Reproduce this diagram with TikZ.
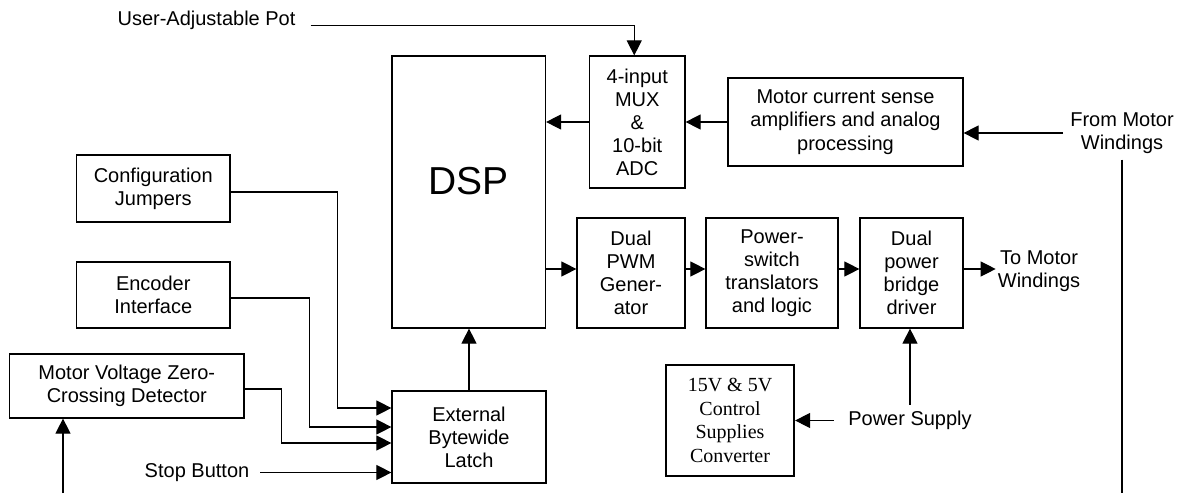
\documentclass[tikz,border=0pt]{standalone}
\usepackage{fontspec}
\setmainfont{Liberation Sans}
\newfontfamily\boxserif{Liberation Serif}
\usetikzlibrary{arrows.meta}

\begin{document}
\begin{tikzpicture}[x=1pt,y=-1pt,
  blk/.style={draw,line width=1.2pt,align=center,inner sep=0pt,font=\fontsize{20}{23}\selectfont},
  lbl/.style={align=center,inner sep=0pt,font=\fontsize{20}{23}\selectfont},
  arr/.style={line width=1.1pt,-{Triangle[length=15pt,width=15pt]}},
  wire/.style={line width=1.1pt}]
\useasboundingbox (0,0) rectangle (1183,500);

% Processor and analog input side
\node[blk,minimum width=153.5pt,minimum height=272pt,
  label={[font=\fontsize{39}{41}\selectfont,yshift=11pt]center:DSP}] (dsp) at (468.75,192) {};
\node[blk,minimum width=95.5pt,minimum height=132pt] (mux) at (637.25,122) {4-input\\MUX\\\&\\10-bit\\ADC};
\node[blk,minimum width=235pt,minimum height=88pt,font=\fontsize{20}{23.5}\selectfont] (cur) at (845.5,122)
  {Motor current sense\\amplifiers and analog\\processing};

% Digital inputs
\node[blk,minimum width=153.5pt,minimum height=67pt] (cfg) at (153.25,188.5) {Configuration\\Jumpers};
\node[blk,minimum width=153.5pt,minimum height=66pt] (enc) at (153.25,295) {Encoder\\Interface};
\node[blk,minimum width=234.4pt,minimum height=64pt] (zero) at (126.8,386) {Motor Voltage Zero-\\Crossing Detector};
\node[blk,minimum width=154pt,minimum height=92pt] (latch) at (469,437) {External\\Bytewide\\Latch};

% Power stage
\node[blk,minimum width=108pt,minimum height=110pt] (pwm) at (631,273) {Dual\\PWM\\Gener-\\ator};
\node[blk,minimum width=132pt,minimum height=110pt] (sw) at (772,273) {Power-\\switch\\translators\\and logic};
\node[blk,minimum width=103pt,minimum height=110pt] (bridge) at (911.5,273) {Dual\\power\\bridge\\driver};
\node[blk,line width=2.2pt,minimum width=128pt,minimum height=111pt,font=\boxserif\fontsize{20}{23.5}\selectfont] (conv) at (730,420.5)
  {15V \& 5V\\Control\\Supplies\\Converter};

% Free labels
\node[lbl,inner xsep=15pt] (pot) at (206.5,20) {User-Adjustable Pot};
\node[lbl,inner xsep=11pt] (stop) at (197,472.5) {Stop Button};
\node[lbl,inner xsep=14.5pt,inner ysep=6pt] (ps) at (910,420.5) {Power Supply};
\node[lbl,inner sep=2pt] (tomw) at (1039,271) {To Motor\\Windings};
\node[lbl,inner xsep=7pt,inner ysep=6pt] (fmw) at (1122,133) {From Motor\\Windings};

\coordinate (row) at (0,269);
\coordinate (wbot) at (1120,493);
\coordinate (zbot) at (63,493);

% Connections
\draw[arr] (pot.base east) -| ([xshift=-3pt]mux.north);
\draw[arr] (mux.west) -- (mux.west -| dsp.east);
\draw[arr] (cur.west) -- (mux.east);
\draw[arr] (fmw.west) -- (fmw.west -| cur.east);
\draw[wire] (fmw.south) -- (fmw.south |- wbot);

\draw[arr] ([yshift=-3.5pt]cfg.east) -- ++(107,0) |- ([yshift=29pt]latch.west);
\draw[arr] ([yshift=-3pt]enc.east) -- ++(79,0) |- ([yshift=10pt]latch.west);
\draw[arr] ([yshift=-3pt]zero.east) -- ++(37,0) |- ([yshift=-6pt]latch.west);
\draw[arr] (stop.east) -- (stop.east -| latch.west);
\draw[arr] (zbot) -- (zbot |- zero.south);
\draw[arr] (latch.north) -- (latch.north |- dsp.south);

\draw[arr] (dsp.east |- row) -- (pwm.west |- row);
\draw[arr] (pwm.east |- row) -- (sw.west |- row);
\draw[arr] (sw.east |- row) -- (bridge.west |- row);
\draw[arr] (bridge.east |- row) -- (tomw.west |- row);
\draw[arr] (ps.north) -- (ps.north |- bridge.south);
\draw[arr] (ps.west) -- (ps.west -| conv.east);
\end{tikzpicture}
\end{document}
